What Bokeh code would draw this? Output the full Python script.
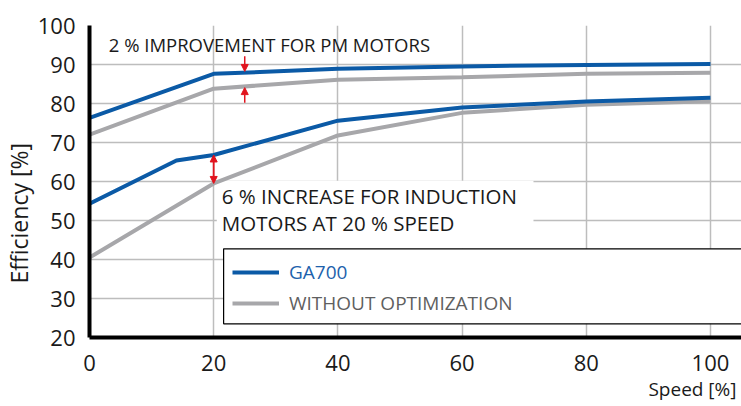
import numpy as np
from bokeh.plotting import figure
from bokeh.models import (Range1d, Legend, LegendItem, Label, Arrow, NormalHead,
                          BoxAnnotation, FixedTicker, Title)
from bokeh.embed import file_html
from bokeh.resources import INLINE

# ---- data ----
speed_pm = [0, 20, 40, 60, 80, 100]
pm_ga700 = [76.3, 87.6, 88.9, 89.5, 89.9, 90.1]
pm_without = [72.0, 83.8, 86.1, 86.7, 87.6, 87.9]

speed_im_ga700 = [0, 14, 20, 40, 60, 80, 100]
im_ga700 = [54.3, 65.4, 66.8, 75.6, 79.0, 80.5, 81.5]
speed_im_without = [0, 20, 40, 60, 80, 100]
im_without = [40.5, 59.5, 71.8, 77.6, 79.7, 80.6]

x_ticks = [0, 20, 40, 60, 80, 100]
y_ticks = [20, 30, 40, 50, 60, 70, 80, 90, 100]

series_labels = ["GA700", "WITHOUT OPTIMIZATION"]
note_pm = "2 % IMPROVEMENT FOR PM MOTORS"
note_im = ["6 % INCREASE FOR INDUCTION", "MOTORS AT 20 % SPEED"]
pm_arrow_speed = 25
im_arrow_speed = 20

BLUE = "#0b5aa6"
GRAY = "#a7a7aa"
RED = "#e1141e"
GRID = "#bdbdbd"
TXT = "#1a1a1a"
FONT = "Open Sans"

p = figure(width=741, height=406, output_backend="svg", toolbar_location=None,
           x_range=Range1d(0, 105), y_range=Range1d(20, 100),
           min_border_left=89, min_border_top=25, min_border_right=0,
           min_border_bottom=69)
p.outline_line_color = None
p.background_fill_color = "white"

# axes
for ax in (p.xaxis[0], p.yaxis[0]):
    ax.axis_line_width = 4
    ax.axis_line_color = "black"
    ax.major_tick_line_color = None
    ax.minor_tick_line_color = None
    ax.major_label_text_font = FONT
    ax.major_label_text_font_size = "22px"
    ax.major_label_text_color = TXT
p.xaxis.ticker = FixedTicker(ticks=x_ticks)
p.yaxis.ticker = FixedTicker(ticks=y_ticks)
p.xaxis.major_label_standoff = 11
p.yaxis.major_label_standoff = 8

p.xgrid.ticker = FixedTicker(ticks=x_ticks)
p.ygrid.ticker = FixedTicker(ticks=y_ticks)
for g in (p.xgrid[0], p.ygrid[0]):
    g.grid_line_color = GRID
    g.grid_line_width = 1.5

# axis titles
p.add_layout(Title(text="Efficiency [%]", align="left", offset=54,
                   vertical_align="bottom", standoff=0,
                   text_font=FONT, text_font_size="23px",
                   text_font_style="normal", text_color=TXT), "left")
p.add_layout(Title(text="Speed [%]", align="right", offset=5,
                   vertical_align="bottom", standoff=0,
                   text_font=FONT, text_font_size="19px",
                   text_font_style="normal", text_color=TXT), "below")

# white background behind induction note (covers grid only)
note_bg = BoxAnnotation(left=20.5, right=71.5, top=60.2, bottom=42.74,
                        fill_color="white", fill_alpha=1.0, line_color=None,
                        level="underlay")
p.add_layout(note_bg)

# lines
r_pm_ga = p.line(speed_pm, pm_ga700, line_color=BLUE, line_width=4)
r_pm_wo = p.line(speed_pm, pm_without, line_color=GRAY, line_width=4)
r_im_wo = p.line(speed_im_without, im_without, line_color=GRAY, line_width=4)
r_im_ga = p.line(speed_im_ga700, im_ga700, line_color=BLUE, line_width=4)

# arrows
ga_at = float(np.interp(pm_arrow_speed, speed_pm, pm_ga700))
wo_at = float(np.interp(pm_arrow_speed, speed_pm, pm_without))
p.add_layout(Arrow(x_start=pm_arrow_speed, y_start=ga_at + 4.2,
                   x_end=pm_arrow_speed, y_end=ga_at + 0.3,
                   line_color=RED, line_width=1.5,
                   end=NormalHead(size=7, fill_color=RED, line_color=RED)))
p.add_layout(Arrow(x_start=pm_arrow_speed, y_start=wo_at - 4.2,
                   x_end=pm_arrow_speed, y_end=wo_at - 0.3,
                   line_color=RED, line_width=1.5,
                   end=NormalHead(size=7, fill_color=RED, line_color=RED)))
ig = float(np.interp(im_arrow_speed, speed_im_ga700, im_ga700))
iw = float(np.interp(im_arrow_speed, speed_im_without, im_without))
p.add_layout(Arrow(x_start=im_arrow_speed, y_start=ig, x_end=im_arrow_speed,
                   y_end=iw, line_color=RED, line_width=1.8,
                   start=NormalHead(size=7, fill_color=RED, line_color=RED),
                   end=NormalHead(size=7, fill_color=RED, line_color=RED)))

# notes
p.add_layout(Label(x=3.1, y=95.1, text=note_pm, text_font=FONT,
                   text_font_size="18.5px", text_color=TXT,
                   text_baseline="middle", text_align="left"))
p.add_layout(Label(x=21.3, y=56.3, text=note_im[0], text_font=FONT,
                   text_font_size="20.5px", text_color=TXT,
                   text_baseline="middle", text_align="left"))
p.add_layout(Label(x=21.3, y=49.3, text=note_im[1], text_font=FONT,
                   text_font_size="20.5px", text_color=TXT,
                   text_baseline="middle", text_align="left"))

# legend frame
legend_box = BoxAnnotation(left=21.6, right=110, top=42.74, bottom=23.5,
                           fill_color="white", fill_alpha=1.0,
                           line_color="black", line_alpha=1.0, line_width=1.2,
                           level="underlay")
p.add_layout(legend_box)

leg1 = Legend(items=[LegendItem(label=series_labels[0], renderers=[r_pm_ga])],
              location=(143, 50), padding=0, spacing=0, margin=0,
              glyph_width=47, glyph_height=30, label_height=30,
              label_standoff=10, label_text_font=FONT,
              label_text_font_size="19px", label_text_color="#1d62ac",
              border_line_color=None, background_fill_alpha=0)
leg2 = Legend(items=[LegendItem(label=series_labels[1], renderers=[r_pm_wo])],
              location=(143, 19), padding=0, spacing=0, margin=0,
              glyph_width=47, glyph_height=30, label_height=30,
              label_standoff=10, label_text_font=FONT,
              label_text_font_size="19px", label_text_color="#5f5f5f",
              border_line_color=None, background_fill_alpha=0)
p.add_layout(leg1)
p.add_layout(leg2)

open("out.html", "w").write(file_html(p, INLINE))
